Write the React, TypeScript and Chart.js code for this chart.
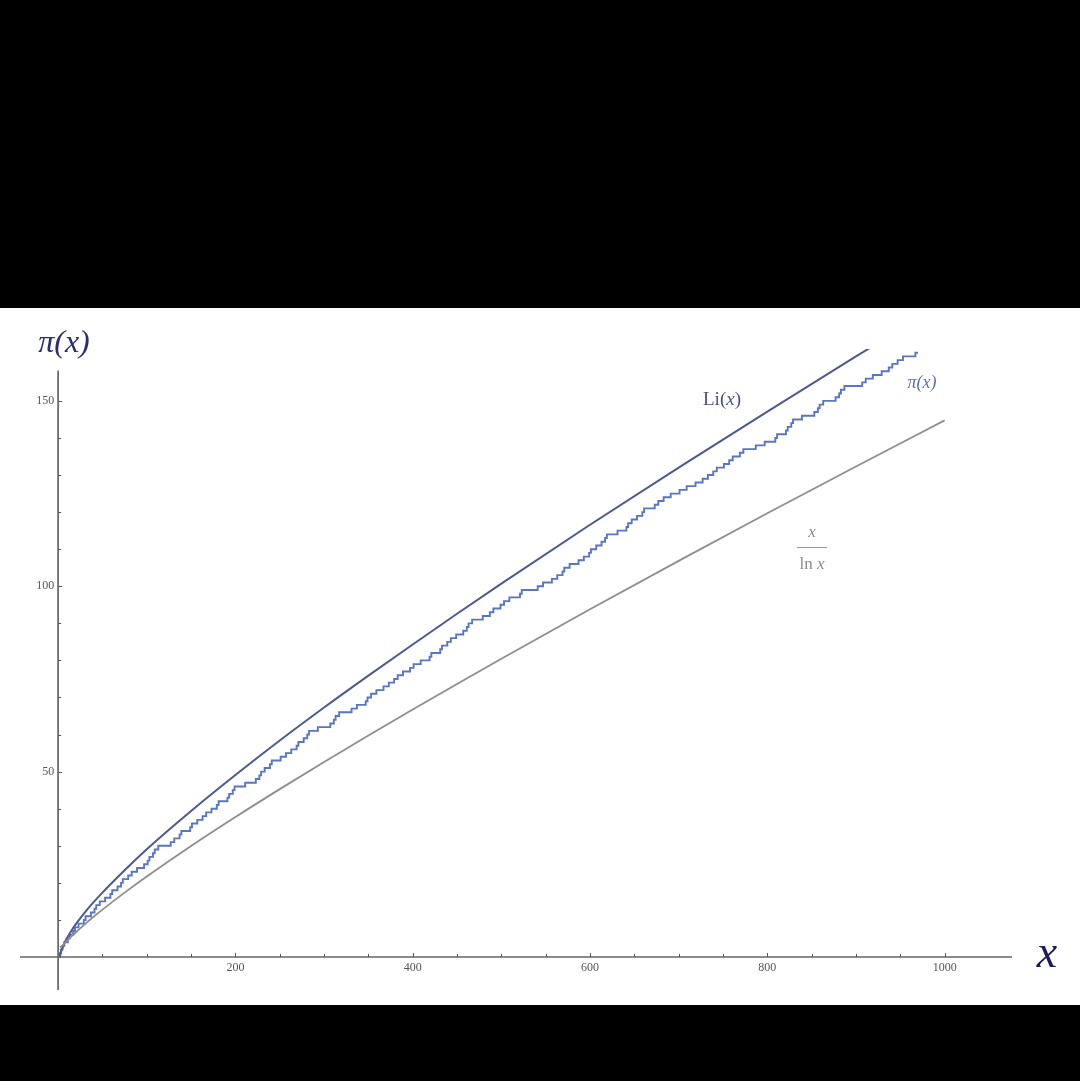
import React, { useEffect, useRef } from "react";
import { Chart, registerables } from "chart.js";
Chart.register(...registerables);

// primes up to the end of the plotted pi(x) curve
const primes = [
  2, 3, 5, 7, 11, 13, 17, 19, 23, 29, 31, 37, 41, 43, 47, 53, 59, 61, 67, 71, 73, 79, 83, 89, 97,
  101, 103, 107, 109, 113, 127, 131, 137, 139, 149, 151, 157, 163, 167, 173, 179, 181, 191, 193, 197, 199,
  211, 223, 227, 229, 233, 239, 241, 251, 257, 263, 269, 271, 277, 281, 283, 293,
  307, 311, 313, 317, 331, 337, 347, 349, 353, 359, 367, 373, 379, 383, 389, 397,
  401, 409, 419, 421, 431, 433, 439, 443, 449, 457, 461, 463, 467, 479, 487, 491, 499,
  503, 509, 521, 523, 541, 547, 557, 563, 569, 571, 577, 587, 593, 599,
  601, 607, 613, 617, 619, 631, 641, 643, 647, 653, 659, 661, 673, 677, 683, 691,
  701, 709, 719, 727, 733, 739, 743, 751, 757, 761, 769, 773, 787, 797,
  809, 811, 821, 823, 827, 829, 839, 853, 857, 859, 863, 877, 881, 883, 887,
  907, 911, 919, 929, 937, 941, 947, 953, 967,
];
const piEndX = 970;

const liX = [2, 3, 5, 7, 10, 15, 20, 30, 40, 50, 75, 100, 150, 200, 250, 300, 350, 400, 450, 500, 600, 700, 800, 900, 1000];
const liY = [0, 1.12, 2.59, 3.71, 5.12, 7.1, 8.86, 11.97, 14.78, 17.38, 23.4, 29.08, 39.4, 49.1, 58.4, 67.3, 75.9, 84.3, 92.6, 100.7, 116.6, 132.0, 147.1, 162.0, 176.6];

const xlnX = [2, 3, 5, 7, 10, 15, 20, 30, 40, 50, 75, 100, 150, 200, 250, 300, 350, 400, 450, 500, 600, 700, 800, 900, 1000];
const xlnY = [2.885, 2.731, 3.107, 3.597, 4.343, 5.539, 6.676, 8.82, 10.84, 12.78, 17.37, 21.71, 29.94, 37.75, 45.28, 52.6, 59.75, 66.76, 73.66, 80.46, 93.8, 106.85, 119.68, 132.31, 144.76];

const xTickLabels = [200, 400, 600, 800, 1000];
const yTickLabels = [50, 100, 150];
const xMin = -43;
const xMax = 1076;
const yMin = -8.9;
const yMax = 164;
const yAxisTop = 158.2;
const xAxisLast = 1050;

const axisPlugin = {
  id: "mmaAxes",
  afterDatasetsDraw(chart: any) {
    const { ctx, chartArea } = chart;
    const xs = chart.scales.x;
    const ys = chart.scales.y;
    const x0 = xs.getPixelForValue(0);
    const y0 = ys.getPixelForValue(0);
    ctx.save();
    ctx.strokeStyle = "#666666";
    ctx.lineWidth = 1.7;
    ctx.beginPath();
    ctx.moveTo(chartArea.left, y0);
    ctx.lineTo(chartArea.right, y0);
    ctx.moveTo(x0, ys.getPixelForValue(yAxisTop));
    ctx.lineTo(x0, chartArea.bottom);
    ctx.stroke();
    ctx.lineWidth = 1;
    ctx.strokeStyle = "#555555";
    ctx.beginPath();
    xs.ticks.forEach((t: any) => {
      const v = t.value;
      if (v <= 0 || v > xAxisLast || Math.abs(v % 50) > 1e-6) return;
      const px = Math.round(xs.getPixelForValue(v)) + 0.5;
      const len = v % 200 === 0 ? 4 : 3;
      ctx.moveTo(px, y0);
      ctx.lineTo(px, y0 - len);
    });
    ys.ticks.forEach((t: any) => {
      const v = t.value;
      if (v <= 0 || v > yAxisTop || Math.abs(v % 10) > 1e-6) return;
      const py = Math.round(ys.getPixelForValue(v)) + 0.5;
      const len = v % 50 === 0 ? 4 : 3;
      ctx.moveTo(x0, py);
      ctx.lineTo(x0 + len, py);
    });
    ctx.stroke();
    ctx.restore();
  },
};

export default function App() {
  const ref = useRef<HTMLCanvasElement | null>(null);
  useEffect(() => {
    document.body.style.margin = "0";
    document.body.style.background = "#000";
    const piData = [{ x: 0, y: 0 }, ...primes.map((p, i) => ({ x: p, y: i + 1 })), { x: piEndX, y: primes.length }];
    const liData = liX.map((x, i) => ({ x, y: liY[i] }));
    const xlnData = xlnX.map((x, i) => ({ x, y: xlnY[i] }));
    const chart = new Chart(ref.current as HTMLCanvasElement, {
      type: "line",
      data: {
        datasets: [
          {
            label: "x/ln x",
            data: xlnData,
            borderColor: "#8e8e8e",
            borderWidth: 1.8,
            pointRadius: 0,
            cubicInterpolationMode: "monotone",
          },
          {
            label: "Li(x)",
            data: liData,
            borderColor: "#4c5a8e",
            borderWidth: 2,
            pointRadius: 0,
            cubicInterpolationMode: "monotone",
          },
          {
            label: "π(x)",
            data: piData,
            borderColor: "#5a76c0",
            borderWidth: 1.9,
            pointRadius: 0,
            stepped: "before",
          },
        ],
      },
      options: {
        animation: false,
        responsive: false,
        maintainAspectRatio: false,
        layout: { padding: { left: 20, right: 68, top: 41, bottom: 15 } },
        plugins: { legend: { display: false }, tooltip: { enabled: false } },
        scales: {
          x: {
            type: "linear",
            min: xMin,
            max: xMax,
            position: { y: 0 },
            grid: { display: false, drawTicks: false },
            border: { display: false },
            ticks: {
              stepSize: 50,
              autoSkip: false,
              maxRotation: 0,
              padding: 4,
              color: "#555",
              font: { family: "'Liberation Serif', serif", size: 12 },
              callback: (v: any) => (xTickLabels.includes(Number(v)) ? String(v) : ""),
            },
          },
          y: {
            type: "linear",
            min: yMin,
            max: yMax,
            position: { x: -4.5 },
            grid: { display: false, drawTicks: false },
            border: { display: false },
            ticks: {
              stepSize: 10,
              autoSkip: false,
              padding: 6,
              color: "#555",
              font: { family: "'Liberation Serif', serif", size: 12 },
              callback: (v: any) => (yTickLabels.includes(Number(v)) ? String(v) : ""),
            },
          },
        },
      },
      plugins: [axisPlugin],
    });
    return () => chart.destroy();
  }, []);

  const serif = "'Liberation Serif', 'DejaVu Serif', serif";
  const center: React.CSSProperties = { position: "absolute", transform: "translate(-50%, -50%)", whiteSpace: "nowrap", lineHeight: 1, fontFamily: serif };

  return (
    <div style={{ position: "fixed", left: 0, top: 0, width: 1080, height: 1081, background: "#000", overflow: "hidden" }}>
      <div style={{ position: "absolute", left: 0, top: 308, width: 1080, height: 697, background: "#fff" }}>
        <canvas ref={ref} width={1080} height={697} style={{ display: "block", width: 1080, height: 697 }} />
      </div>
      <div style={{ ...center, left: 64, top: 341, fontSize: 32, fontStyle: "italic", color: "#2b2d6e" }}>π(x)</div>
      <div style={{ ...center, left: 1047, top: 952, fontSize: 46, fontStyle: "italic", color: "#1c1c5c" }}>x</div>
      <div style={{ ...center, left: 722, top: 398, fontSize: 19, color: "#4a5282" }}>
        Li(<span style={{ fontStyle: "italic" }}>x</span>)
      </div>
      <div style={{ ...center, left: 922, top: 382, fontSize: 18, fontStyle: "italic", color: "#5a70b8" }}>π(x)</div>
      <div style={{ ...center, left: 812, top: 531, fontSize: 17, fontStyle: "italic", color: "#8a8a8a" }}>x</div>
      <div style={{ position: "absolute", left: 797, top: 547, width: 30, height: 1, background: "#9a9a9a" }} />
      <div style={{ ...center, left: 812, top: 563, fontSize: 17, color: "#8a8a8a" }}>
        ln <span style={{ fontStyle: "italic" }}>x</span>
      </div>
    </div>
  );
}
